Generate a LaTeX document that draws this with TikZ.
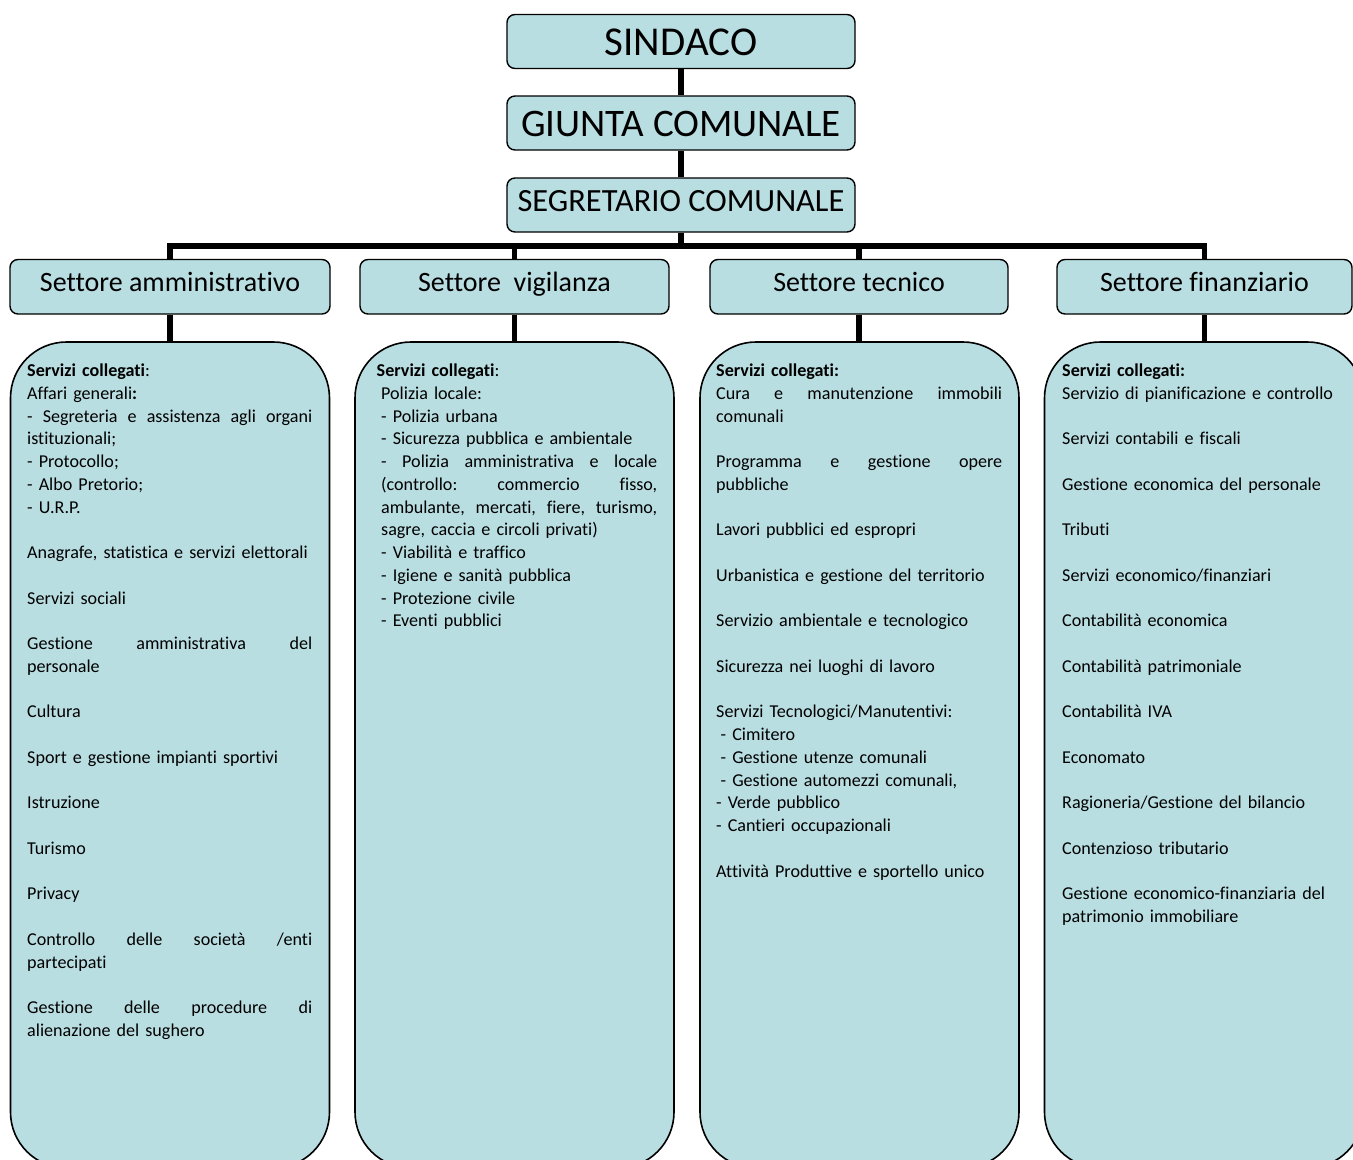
\documentclass[tikz,border=0pt]{standalone}
\usepackage{fontspec}
\setmainfont{Carlito}[Ligatures=NoCommon]
\definecolor{boxblue}{RGB}{185,222,226}
\newcommand{\justline}[1]{\leavevmode\hbox to\hsize{\spaceskip=\fontdimen2\font plus 1fil\relax\xspaceskip=\spaceskip #1}}

\begin{document}
\begin{tikzpicture}[x=1pt,y=1pt]
\tikzstyle{every node}+=[inner sep=0pt]
\tikzstyle{topbox}=[draw=black, fill=boxblue, line width=1.4pt, rounded corners=8pt, minimum width=348pt, minimum height=54pt, text depth=0pt]
\tikzstyle{sectbox}=[draw=black, fill=boxblue, line width=1.4pt, rounded corners=8pt, minimum height=54.5pt, text height=10pt, text depth=0pt, font=\fontsize{28}{34}\selectfont]
\tikzstyle{servbox}=[draw=black, fill=boxblue, line width=1.6pt, rounded corners=56pt, minimum width=319pt, minimum height=826pt]
\tikzstyle{servtext}=[anchor=base west, align=left, font=\fontsize{18.1}{22.75}\selectfont]
\tikzstyle{link}=[black, line width=5.5pt]
\useasboundingbox (0,0) rectangle (1353,-1160);
\clip (0,0) rectangle (1353,-1160);
\node[topbox, text height=27.6pt, font=\fontsize{41}{48}\selectfont] (sindaco) at (681,-41.5) {SINDACO};
\node[topbox, text height=26pt, font=\fontsize{39}{46}\selectfont] (giunta) at (681,-123) {GIUNTA COMUNALE};
\node[topbox, text height=12pt, font=\fontsize{32.4}{38}\selectfont] (segretario) at (681,-205) {SEGRETARIO COMUNALE};
\node[sectbox, minimum width=320pt] (amm) at (170,-286.75) {Settore amministrativo};
\node[sectbox, minimum width=309pt] (vig) at (514.5,-286.75) {Settore\ \ vigilanza};
\node[sectbox, minimum width=298pt] (tec) at (859,-286.75) {Settore tecnico};
\node[sectbox, minimum width=295pt] (fin) at (1204.5,-286.75) {Settore finanziario};
\node[servbox] (ammserv) at (170,-755) {};
\node[servbox] (vigserv) at (514.5,-755) {};
\node[servbox] (tecserv) at (859.5,-755) {};
\node[servbox] (finserv) at (1204,-755) {};
\coordinate (bus) at (681,-246);
\draw[link] (sindaco.south) -- (giunta.north);
\draw[link] (giunta.south) -- (segretario.north);
\draw[link] (segretario.south) -- (bus);
\draw[link] (amm.north) |- (bus) -| (fin.north);
\draw[link] (vig.north) -- (vig.north |- bus);
\draw[link] (tec.north) -- (tec.north |- bus);
\draw[link] (amm.south) -- (ammserv.north);
\draw[link] (vig.south) -- (vig.south |- vigserv.north);
\draw[link] (tec.south) -- (tec.south |- tecserv.north);
\draw[link] (fin.south) -- (fin.south |- finserv.north);
\node[servtext, text width=285pt] (ammtext) at (27,-376.5) {\textbf{Servizi collegati}:\\
Affari generali\textbf{:}\\
\justline{- Segreteria e assistenza agli organi}\\
istituzionali;\\
- Protocollo;\\
- Albo Pretorio;\\
- U.R.P.\\[22.75pt]
Anagrafe, statistica e servizi elettorali\\[22.75pt]
Servizi sociali\\[22.75pt]
\justline{Gestione amministrativa del}\\
personale\\[22.75pt]
Cultura\\[22.75pt]
Sport e gestione impianti sportivi\\[22.75pt]
Istruzione\\[22.75pt]
Turismo\\[22.75pt]
Privacy\\[22.75pt]
\justline{Controllo delle società /enti}\\
partecipati\\[22.75pt]
\justline{Gestione delle procedure di}\\
alienazione del sughero};
\node[servtext, text width=276pt] (vigtext) at (381,-376.5) {\hspace*{-4.5pt}\textbf{Servizi collegati}:\\
Polizia locale:\\
- Polizia urbana\\
- Sicurezza pubblica e ambientale\\
\justline{- Polizia amministrativa e locale}\\
\justline{(controllo: commercio fisso,}\\
\justline{ambulante, mercati, fiere, turismo,}\\
sagre, caccia e circoli privati)\\
- Viabilità e traffico\\
- Igiene e sanità pubblica\\
- Protezione civile\\
- Eventi pubblici};
\node[servtext, text width=286pt] (tectext) at (716,-376.5) {\textbf{Servizi collegati:}\\
\justline{Cura e manutenzione immobili}\\
comunali\\[22.75pt]
\justline{Programma e gestione opere}\\
pubbliche\\[22.75pt]
Lavori pubblici ed espropri\\[22.75pt]
Urbanistica e gestione del territorio\\[22.75pt]
Servizio ambientale e tecnologico\\[22.75pt]
Sicurezza nei luoghi di lavoro\\[22.75pt]
Servizi Tecnologici/Manutentivi:\\
\hspace*{4.5pt}- Cimitero\\
\hspace*{4.5pt}- Gestione utenze comunali\\
\hspace*{4.5pt}- Gestione automezzi comunali,\\
- Verde pubblico\\
- Cantieri occupazionali\\[22.75pt]
Attività Produttive e sportello unico};
\node[servtext, text width=285pt] (fintext) at (1062,-376.5) {\textbf{Servizi collegati:}\\
Servizio di pianificazione e controllo\\[22.75pt]
Servizi contabili e fiscali\\[22.75pt]
Gestione economica del personale\\[22.75pt]
Tributi\\[22.75pt]
Servizi economico/finanziari\\[22.75pt]
Contabilità economica\\[22.75pt]
Contabilità patrimoniale\\[22.75pt]
Contabilità IVA\\[22.75pt]
Economato\\[22.75pt]
Ragioneria/Gestione del bilancio\\[22.75pt]
Contenzioso tributario\\[22.75pt]
Gestione economico-finanziaria del\\
patrimonio immobiliare};
\end{tikzpicture}
\end{document}
